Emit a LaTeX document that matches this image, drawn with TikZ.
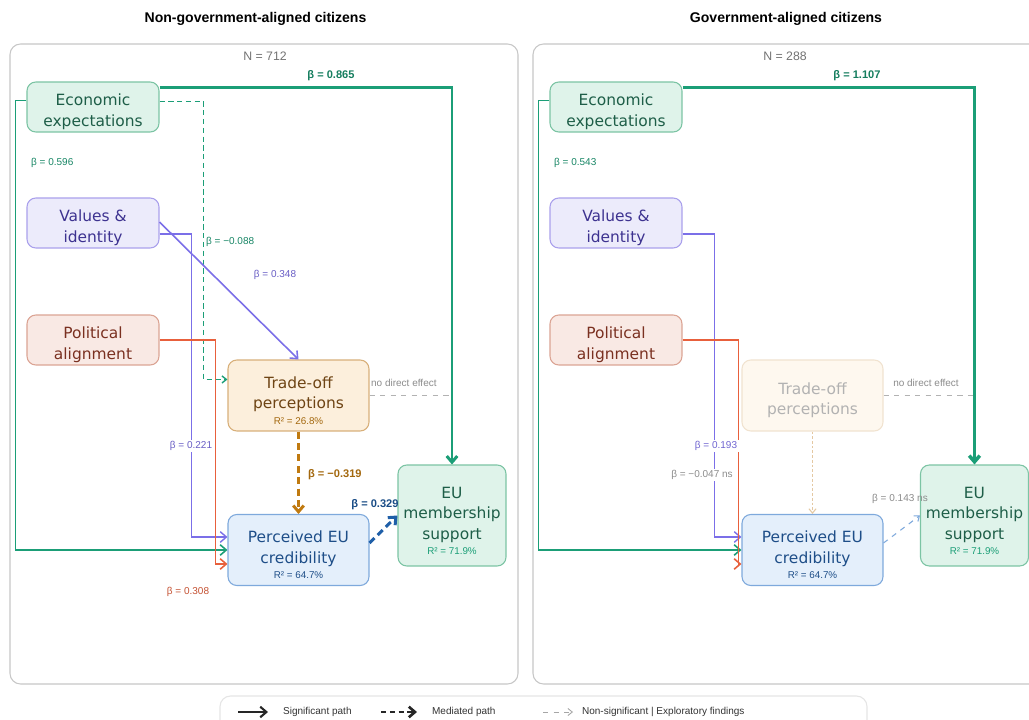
\documentclass[tikz,border=0pt]{standalone}
\usepackage{fontspec}
\setmainfont{Liberation Sans}
\newfontfamily\boxfont{DejaVu Sans}
\usetikzlibrary{arrows.meta,calc}
\definecolor{econfill}{HTML}{DFF3EA}\definecolor{econdraw}{HTML}{7CC4A4}\definecolor{econtext}{HTML}{1E5E48}
\definecolor{valfill}{HTML}{ECEBFB}\definecolor{valdraw}{HTML}{AAA0EC}\definecolor{valtext}{HTML}{3D3290}
\definecolor{polfill}{HTML}{F9E9E4}\definecolor{poldraw}{HTML}{DBA494}\definecolor{poltext}{HTML}{7A3020}
\definecolor{tofill}{HTML}{FCEFDC}\definecolor{todraw}{HTML}{D8B07A}\definecolor{totext}{HTML}{6E4414}
\definecolor{pecfill}{HTML}{E4EFFB}\definecolor{pecdraw}{HTML}{7EA9DC}\definecolor{pectext}{HTML}{1E4E88}
\definecolor{greenline}{HTML}{1B9E77}\definecolor{purpline}{HTML}{7B6FE8}\definecolor{orline}{HTML}{E8603C}
\definecolor{brownline}{HTML}{C07A10}\definecolor{blueline}{HTML}{1F5FA8}
\newcommand\rfont{\rmfamily\fontsize{5.6}{6.5}\selectfont}
\newcommand\topgap{\rule{0pt}{12.3pt}}
\begin{document}
\begin{tikzpicture}[x=0.02cm,y=-0.02cm,
 box/.style={rounded corners=5pt,draw,line width=0.6pt,align=center,inner sep=0pt,
  font=\boxfont\fontsize{8.8}{11.7}\selectfont},
 econ/.style={box,fill=econfill,draw=econdraw,text=econtext,minimum width=2.64cm,minimum height=1cm},
 val/.style={box,fill=valfill,draw=valdraw,text=valtext,minimum width=2.64cm,minimum height=1cm},
 pol/.style={box,fill=polfill,draw=poldraw,text=poltext,minimum width=2.64cm,minimum height=1cm},
 trd/.style={box,fill=tofill,draw=todraw,text=totext,minimum width=2.82cm,minimum height=1.42cm},
 pec/.style={box,fill=pecfill,draw=pecdraw,text=pectext,minimum width=2.82cm,minimum height=1.42cm},
 eubox/.style={box,fill=econfill,draw=econdraw,text=econtext,minimum width=2.16cm,minimum height=2.02cm},
 lbl/.style={font=\fontsize{5.7}{6.5}\selectfont,inner sep=1pt},
 blbl/.style={font=\bfseries\fontsize{6.3}{7}\selectfont,inner sep=1pt},
 tip/.style={-{Straight Barb[length=3.5pt,width=6pt]}},
 small tip/.style={-{Straight Barb[length=2.5pt,width=4pt]}},
 panel/.style={draw=black!22,line width=0.6pt,rounded corners=6pt},
 ttl/.style={font=\bfseries\fontsize{8}{10}\selectfont}]
\clip (0,0) rectangle (1029,720);
\fill[white] (0,0) rectangle (1029,720);
% panels and titles
\node[ttl] (ttlL) at (255.5,19) {Non-government-aligned citizens};
\node[ttl] (ttlR) at (786,19) {Government-aligned citizens};
\draw[panel] (10,44) rectangle (518,684);
\draw[panel] (533,44) rectangle (1045,684);
\node[lbl,text=black!55,font=\fontsize{7}{8}\selectfont] (nL) at (265,56) {N = 712};
\node[lbl,text=black!55,font=\fontsize{7}{8}\selectfont] (nR) at (785,56) {N = 288};

% left: non-government-aligned
\node[econ] (econL) at (93,107) {\topgap Economic\\expectations};
\node[val] (valL) at (93,223) {\topgap Values \&\\identity};
\node[pol] (polL) at (93,340) {\topgap Political\\alignment};
\node[trd] (toL) at (298.5,395.5) {\topgap Trade-off\\perceptions\\[-3pt]{\rfont\color{brownline!85!black} R² = 26.8\%}};
\node[pec] (pecL) at (298.5,550) {\topgap Perceived EU\\credibility\\[-3pt]{\rfont\color{pectext} R² = 64.7\%}};
\node[eubox] (euL) at (452,515.5) {\topgap EU\\membership\\support\\[-3pt]{\rfont\color{greenline} R² = 71.9\%}};

\draw[black!30,dashed,line width=0.5pt] (toL.east) -- (toL.east -| euL.north);
\draw[greenline,line width=1.7pt,tip] ($(econL.north east)+(0,6)$) -| (euL.north);
\draw[greenline,line width=0.9pt,tip] ($(econL.north west)+(0,19)$) -- ++(-11,0) |- (pecL.west);
\draw[greenline,line width=0.8pt,dash pattern=on 3pt off 2pt,small tip] ($(econL.north east)+(0,20)$) -- ++(44,0) |- ($(toL.north west)+(0,20)$);
\draw[purpline,line width=0.9pt,tip] ($(valL.east)+(0,-1)$) -- (toL.north);
\draw[purpline,line width=0.8pt,tip] ($(valL.east)+(0,11)$) -- ++(32,0) |- ($(pecL.west)+(0,-13)$);
\draw[orline,line width=0.9pt,tip] (polL.east) -- ++(56,0) |- ($(pecL.west)+(0,14)$);
\draw[brownline,line width=1.7pt,dash pattern=on 4pt off 2.5pt,tip] (toL.south) -- (pecL.north);
\draw[blueline,line width=1.7pt,dash pattern=on 4pt off 2.5pt,tip] ($(pecL.east)+(0,-7)$) -- (euL.west);

\node[blbl,text=greenline!80!black] (b865) at (331,76) {β = 0.865};
\node[lbl,text=greenline!85!black,anchor=west] (b596) at (29,163) {β = 0.596};
\node[lbl,text=greenline!85!black,anchor=west] (b088) at (204,242) {β = −0.088};
\node[lbl,text=purpline!85!black] (b348) at (275,275) {β = 0.348};
\node[lbl,text=purpline!85!black,fill=white] (b221) at (191,446) {β = 0.221};
\node[lbl,text=orline!85!black] (b308) at (188,592) {β = 0.308};
\node[blbl,text=brownline!85!black,anchor=west] (b319) at (306,475) {β = −0.319};
\node[blbl,text=blueline!80!black] (b329) at (375,505) {β = 0.329};
\node[lbl,text=black!45,anchor=west] (ndL) at (369,383) {no direct effect};

% right: government-aligned
\node[econ] (econR) at (616,107) {\topgap Economic\\expectations};
\node[val] (valR) at (616,223) {\topgap Values \&\\identity};
\node[pol] (polR) at (616,340) {\topgap Political\\alignment};
\node[trd,fill=tofill!45,draw=todraw!35,text=black!30] (toR) at (812.5,395.5) {\topgap Trade-off\\perceptions};
\node[pec] (pecR) at (812.5,550) {\topgap Perceived EU\\credibility\\[-3pt]{\rfont\color{pectext} R² = 64.7\%}};
\node[eubox] (euR) at (974.5,515.5) {\topgap EU\\membership\\support\\[-3pt]{\rfont\color{greenline} R² = 71.9\%}};

\draw[black!30,dashed,line width=0.5pt] (toR.east) -- (toR.east -| euR.north);
\draw[greenline,line width=2pt,tip] ($(econR.north east)+(0,6)$) -| (euR.north);
\draw[greenline,line width=0.9pt,tip] ($(econR.north west)+(0,19)$) -- ++(-11,0) |- (pecR.west);
\draw[purpline,line width=0.8pt,tip] ($(valR.east)+(0,11)$) -- ++(32,0) |- ($(pecR.west)+(0,-13)$);
\draw[orline,line width=0.9pt,tip] (polR.east) -- ++(56,0) |- ($(pecR.west)+(0,14)$);
\draw[todraw!70,line width=0.6pt,dash pattern=on 1.5pt off 1.2pt,small tip] (toR.south) -- (pecR.north);
\draw[pecdraw,line width=0.6pt,dashed,small tip] ($(pecR.east)+(0,-7)$) -- (euR.west);

\node[blbl,text=greenline!80!black] (b107) at (857,76) {β = 1.107};
\node[lbl,text=greenline!85!black,anchor=west] (b543) at (552,163) {β = 0.543};
\node[lbl,text=purpline!90!black,fill=white] (b193) at (716,446) {β = 0.193};
\node[lbl,text=black!45,fill=white] (b047) at (702,475) {β = −0.047 ns};
\node[lbl,text=black!45] (b143) at (900,499) {β = 0.143 ns};
\node[lbl,text=black!45] (ndR) at (926,383) {no direct effect};

% legend
\draw[panel,draw=black!10] (220,696) rectangle (867,740);
\coordinate (s1) at (238,712); \coordinate (s2) at (268,712);
\coordinate (m1) at (381,712); \coordinate (m2) at (417,712);
\coordinate (n1) at (543,712); \coordinate (n2) at (573,712);
\draw[black!85,line width=1.2pt,tip] (s1) -- (s2);
\draw[black!85,line width=1.5pt,dash pattern=on 3pt off 2pt,tip] (m1) -- (m2);
\draw[black!35,line width=0.5pt,dashed,small tip] (n1) -- (n2);
\node[lbl,anchor=west,text=black!80] (lsig) at (281,712) {Significant path};
\node[lbl,anchor=west,text=black!80] (lmed) at (430,712) {Mediated path};
\node[lbl,anchor=west,text=black!80] (lns) at (580,712) {Non-significant | Exploratory findings};
\end{tikzpicture}
\end{document}
